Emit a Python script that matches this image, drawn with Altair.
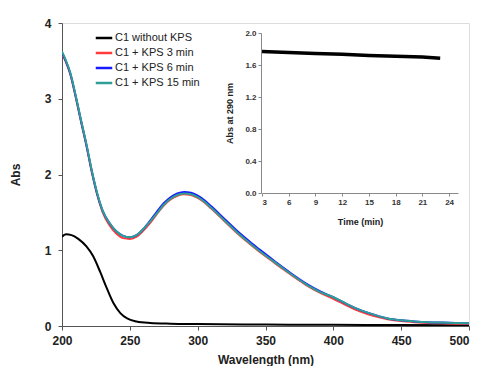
import altair as alt
import pandas as pd

# ---- main spectra data ----
wl_black = [200, 203, 207, 212, 218, 223, 228, 233, 238, 243, 248, 255, 265, 280, 300, 350, 400, 450, 500]
abs_black = [1.18, 1.21, 1.20, 1.15, 1.05, 0.92, 0.72, 0.50, 0.30, 0.17, 0.10, 0.06, 0.04, 0.03, 0.025, 0.02, 0.015, 0.012, 0.01]

wl_kps = [200, 203, 206, 210, 214, 218, 222, 226, 230, 235, 240, 245, 250, 255, 260, 265, 270, 275, 280,
          285, 290, 295, 300, 305, 310, 320, 330, 340, 350, 360, 370, 380, 390, 400, 410, 420, 430, 440,
          450, 460, 470, 480, 490, 500]
abs_3min = [3.60, 3.48, 3.33, 3.03, 2.70, 2.38, 2.03, 1.73, 1.50, 1.33, 1.22, 1.16, 1.15, 1.18, 1.26, 1.36, 1.48, 1.59, 1.67,
            1.72, 1.74, 1.73, 1.69, 1.63, 1.55, 1.38, 1.21, 1.06, 0.92, 0.79, 0.66, 0.54, 0.44, 0.36, 0.27, 0.19, 0.13, 0.09,
            0.065, 0.05, 0.04, 0.035, 0.03, 0.028]
abs_6min = [3.61, 3.49, 3.34, 3.04, 2.71, 2.39, 2.04, 1.74, 1.52, 1.36, 1.25, 1.19, 1.17, 1.20, 1.28, 1.39, 1.51, 1.62, 1.70,
            1.75, 1.77, 1.76, 1.72, 1.66, 1.58, 1.41, 1.24, 1.09, 0.95, 0.81, 0.68, 0.56, 0.46, 0.38, 0.29, 0.21, 0.15, 0.10,
            0.075, 0.06, 0.05, 0.045, 0.04, 0.035]
abs_15min = [3.62, 3.50, 3.35, 3.05, 2.72, 2.40, 2.05, 1.75, 1.52, 1.36, 1.25, 1.19, 1.17, 1.20, 1.28, 1.38, 1.49, 1.60, 1.68,
             1.73, 1.75, 1.74, 1.70, 1.64, 1.56, 1.39, 1.22, 1.07, 0.93, 0.80, 0.67, 0.55, 0.45, 0.38, 0.29, 0.21, 0.15, 0.10,
             0.075, 0.06, 0.05, 0.045, 0.04, 0.035]

series_names = ["C1 without KPS", "C1 + KPS 3 min", "C1 + KPS 6 min", "C1 + KPS 15 min"]
series_colors = ["#000000", "#ff3b3b", "#1a1aff", "#2e9e96"]

# ---- inset data ----
time_min = [3, 6, 9, 12, 15, 18, 21, 23]
abs_290 = [1.77, 1.755, 1.745, 1.735, 1.72, 1.71, 1.70, 1.685]

rows = []
for w, a in zip(wl_black, abs_black):
    rows.append({"wl": w, "abs": a, "series": series_names[0], "ord": 0})
for i, vals in enumerate([abs_3min, abs_6min, abs_15min], start=1):
    for w, a in zip(wl_kps, vals):
        rows.append({"wl": w, "abs": a, "series": series_names[i], "ord": i})
df = pd.DataFrame(rows)
df_inset = pd.DataFrame({"t": time_min, "a": abs_290})

FONT = "Liberation Sans"
AX = "#555555"

W, H = 407, 303

main = alt.Chart(df).mark_line(strokeWidth=2, interpolate="monotone", clip=True).encode(
    x=alt.X("wl:Q", scale=alt.Scale(domain=[200, 500], nice=False, zero=False),
            axis=alt.Axis(title="Wavelength (nm)", values=[200, 250, 300, 350, 400, 450, 500],
                          grid=False, labelFontSize=12, labelFontWeight="bold", labelColor="#222",
                          titleFontSize=12, titleFontWeight="bold", titleColor="#222",
                          titlePadding=8, tickSize=4, labelPadding=5, domainColor=AX, tickColor=AX,
                          labelFlush=False,
                          labelAlign=alt.ExprRef("datum.value == 500 ? 'right' : 'center'"))),
    y=alt.Y("abs:Q", scale=alt.Scale(domain=[0, 4], nice=False),
            axis=alt.Axis(title="Abs", values=[0, 1, 2, 3, 4], format="d", grid=False,
                          labelFontSize=12, labelFontWeight="bold", labelColor="#222",
                          titleFontSize=12, titleFontWeight="bold", titleColor="#222",
                          titlePadding=22, tickSize=4, labelPadding=7, domainColor=AX, tickColor=AX)),
    color=alt.Color("series:N", scale=alt.Scale(domain=series_names, range=series_colors),
                    legend=alt.Legend(title=None, orient="none", legendX=35, legendY=8,
                                      symbolType="M-1.5,0L1.5,0", symbolSize=121, symbolStrokeWidth=2.5,
                                      labelFont=FONT, labelFontSize=11, labelColor="#222",
                                      labelOffset=4, rowPadding=3, padding=0)),
    order=alt.Order("ord:Q"),
    detail="series:N",
)

inset = alt.Chart(df_inset).mark_line(strokeWidth=3.5, color="#000000").encode(
    x=alt.X("t:Q", scale=alt.Scale(domain=[3, 25], range=[200, 396], nice=False, zero=False),
            axis=alt.Axis(orient="bottom", offset=-133, title="Time (min)",
                          values=[3, 6, 9, 12, 15, 18, 21, 24], grid=False,
                          labelFontSize=8, labelFontWeight="bold", labelColor="#333",
                          titleFontSize=9, titleFontWeight="bold", titleColor="#222",
                          titlePadding=11, tickSize=3, labelPadding=2, domainColor="#888", tickColor="#888")),
    y=alt.Y("a:Q", scale=alt.Scale(domain=[0, 2], range=[170, 10], nice=False),
            axis=alt.Axis(orient="left", offset=-199, title="Abs at 290 nm",
                          values=[0, 0.4, 0.8, 1.2, 1.6, 2.0], format=".1f", grid=False,
                          labelFontSize=8, labelFontWeight="bold", labelColor="#333",
                          titleFontSize=9, titleFontWeight="bold", titleColor="#222",
                          titlePadding=10, tickSize=3, labelPadding=2, domainColor="#888", tickColor="#888")),
)

chart = alt.layer(main, inset).resolve_scale(x="independent", y="independent").properties(
    width=W, height=H,
    autosize=alt.AutoSizeParams(type="none"),
    padding={"left": 54, "top": 15, "right": 3, "bottom": 40},
).configure_view(stroke=AX, strokeWidth=1).configure(font=FONT)

chart.save("out.html", embed_options={"renderer": "svg", "actions": False})
